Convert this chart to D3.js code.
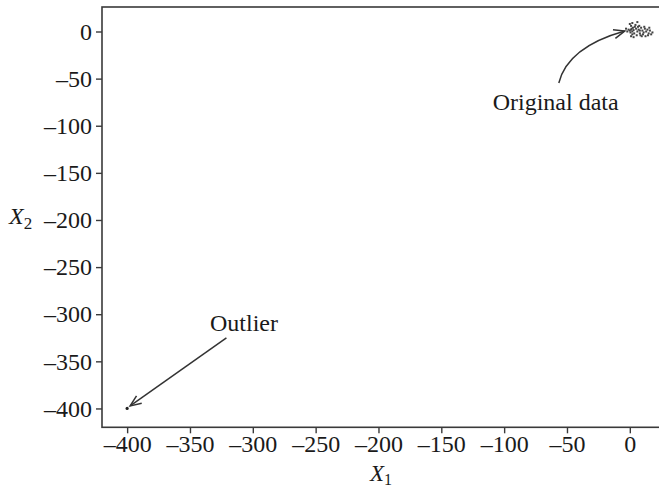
<!DOCTYPE html>
<html>
<head>
<meta charset="utf-8">
<script src="https://cdn.jsdelivr.net/npm/d3@7/dist/d3.min.js"></script>
<style>
  html, body { margin: 0; padding: 0; background: #fff; }
  svg { display: block; }
  text { font-family: "Liberation Serif", "DejaVu Serif", serif; fill: #1a1a1a; }
</style>
</head>
<body>
<svg id="chart" width="659" height="493"></svg>
<script>
// Original sample: a small cloud near the origin
const originalX = [0, 1, 2, 1.5, 3, 0.5, 2.5, -1, 4, 3.5, 5, 1, 2, 6, 7, 8, 9, 10, 11, 12, 6.5, 8.5, 10.5, 13, 14, 15, 16, 17, 12.5, 9.5, 7.5, -2, -3, 0, 2, 4.5, 5.5, 11.5, 14.5, 3, 1, 6, 18, 15.5, 8];
const originalY = [1, 2, 0, 3, 1.5, -1, 4, 2, 5, -2, 3, 6, -3, 0, 2, -2, 4, 1, -1, 3, 5, -4, -3, 0, 2, -2, 1, -3, -5, -5, 6, 0, 3, 8, 9, 7, -4, 5, -4, -6, -5, 10, -1, 4, 1];
// Injected outlier
const outlierX = [-400];
const outlierY = [-400];

const xTicks = [-400, -350, -300, -250, -200, -150, -100, -50, 0];
const yTicks = [0, -50, -100, -150, -200, -250, -300, -350, -400];

const svg = d3.select("#chart");
const plotLeft = 102, plotTop = 7, plotRight = 665, plotBottom = 427.3;

const x = d3.scaleLinear().domain([-420, 28]).range([plotLeft, plotRight]);
const y = d3.scaleLinear().domain([-420, 26]).range([plotBottom, plotTop]);

const axisColor = "#3a3a3a";
const fmt = d => d < 0 ? "\u2013" + Math.abs(d) : String(d);

// Frame
svg.append("rect")
  .attr("x", plotLeft).attr("y", plotTop)
  .attr("width", plotRight - plotLeft).attr("height", plotBottom - plotTop)
  .attr("fill", "none").attr("stroke", axisColor).attr("stroke-width", 1.6);

// Axes
const xAxis = svg.append("g")
  .attr("transform", `translate(0,${plotBottom})`)
  .call(d3.axisBottom(x).tickValues(xTicks).tickFormat(fmt).tickSize(6).tickPadding(2));
const yAxis = svg.append("g")
  .attr("transform", `translate(${plotLeft},0)`)
  .call(d3.axisLeft(y).tickValues(yTicks).tickFormat(fmt).tickSize(6).tickPadding(4));

[xAxis, yAxis].forEach(g => {
  g.select(".domain").remove();
  g.selectAll(".tick line").attr("stroke", axisColor).attr("stroke-width", 1.4);
  g.selectAll(".tick text")
    .style("font-family", "'Liberation Serif', serif")
    .style("font-size", "24px")
    .attr("fill", "#1a1a1a");
});

// Axis titles
const xt = svg.append("text")
  .attr("x", 381).attr("y", 481)
  .attr("text-anchor", "middle")
  .style("font-size", "23px");
xt.append("tspan").style("font-style", "italic").text("X");
xt.append("tspan").attr("dy", 4).style("font-size", "16px").text("1");

const yt = svg.append("text")
  .attr("x", 9).attr("y", 224)
  .style("font-size", "24px");
yt.append("tspan").style("font-style", "italic").text("X");
yt.append("tspan").attr("dy", 5).style("font-size", "17px").text("2");

// Points
const pts = originalX.map((v, i) => [v, originalY[i]]);
svg.append("g").selectAll("rect")
  .data(pts).join("rect")
  .attr("x", d => x(d[0]) - 1).attr("y", d => y(d[1]) - 1)
  .attr("width", 2).attr("height", 2)
  .attr("fill", "#444");

svg.append("g").selectAll("circle")
  .data(outlierX.map((v, i) => [v, outlierY[i]])).join("circle")
  .attr("cx", d => x(d[0])).attr("cy", d => y(d[1]))
  .attr("r", 1.6).attr("fill", "#222");

// Arrowhead marker
svg.append("defs").append("marker")
  .attr("id", "head")
  .attr("viewBox", "-12 -6 14 12")
  .attr("refX", 0).attr("refY", 0)
  .attr("markerWidth", 14).attr("markerHeight", 12)
  .attr("markerUnits", "userSpaceOnUse")
  .attr("orient", "auto")
  .append("path")
  .attr("d", "M-11,-4.5 L0,0 L-11,4.5")
  .attr("fill", "none").attr("stroke", "#333").attr("stroke-width", 1.5);

// Annotation: original data (curved arrow)
const p0 = [-56.5, -54.6], c = [-49.3, -16.4], p1 = [-4, 0.5];
svg.append("path")
  .attr("d", `M${x(p0[0])},${y(p0[1])} Q${x(c[0])},${y(c[1])} ${x(p1[0])},${y(p1[1])}`)
  .attr("fill", "none").attr("stroke", "#333").attr("stroke-width", 1.5)
  .attr("marker-end", "url(#head)");

svg.append("text")
  .attr("x", x(-59)).attr("y", y(-83))
  .attr("text-anchor", "middle")
  .style("font-size", "24px")
  .text("Original data");

// Annotation: outlier (straight arrow)
const q0 = [-321, -325], q1 = [-397.6, -397.3];
svg.append("path")
  .attr("d", `M${x(q0[0])},${y(q0[1])} L${x(q1[0])},${y(q1[1])}`)
  .attr("fill", "none").attr("stroke", "#333").attr("stroke-width", 1.5)
  .attr("marker-end", "url(#head)");

svg.append("text")
  .attr("x", x(-307)).attr("y", y(-318))
  .attr("text-anchor", "middle")
  .style("font-size", "24px")
  .text("Outlier");
</script>
</body>
</html>
